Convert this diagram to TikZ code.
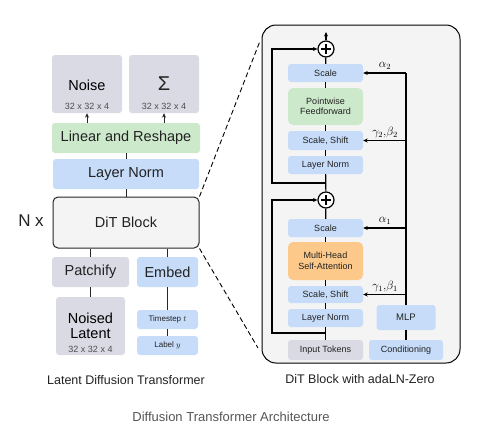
\documentclass[tikz,border=0pt]{standalone}
\usepackage{fontspec}
\setmainfont{Liberation Sans}
\usetikzlibrary{arrows.meta}
\definecolor{boxgray}{HTML}{D9DAE3}
\definecolor{boxblue}{HTML}{C6DCF8}
\definecolor{boxgreen}{HTML}{CDE9CC}
\definecolor{boxorange}{HTML}{FCC98A}
\definecolor{panelfill}{HTML}{F4F4F4}
\definecolor{txt}{HTML}{222222}
\definecolor{captgray}{HTML}{555555}
\begin{document}
\begin{tikzpicture}[x=1pt,y=-1pt,
  blk/.style={rectangle,rounded corners=3pt,inner sep=0pt,align=center,text=txt},
  gbox/.style={blk,fill=boxgray},
  bbox/.style={blk,fill=boxblue},
  grbox/.style={blk,fill=boxgreen},
  obox/.style={blk,fill=boxorange},
  big/.style={font=\fontsize{14.5}{16}\selectfont},
  small/.style={font=\fontsize{9}{10.5}\selectfont},
  tiny/.style={font=\fontsize{8}{9}\selectfont},
  captxt/.style={font=\fontsize{12.5}{14}\selectfont,text=txt},
  lline/.style={line width=1pt,draw=black!85},
  rline/.style={line width=1.2pt,draw=black},
  tip/.style={-{Stealth[length=4.5pt,width=4pt]}},
  plusnode/.style={circle,draw=black,line width=1.2pt,fill=white,minimum size=16pt,inner sep=0pt,
    path picture={\draw[line width=1.2pt] ([xshift=-5pt]path picture bounding box.center) -- ([xshift=5pt]path picture bounding box.center);
                  \draw[line width=1.2pt] ([yshift=-5pt]path picture bounding box.center) -- ([yshift=5pt]path picture bounding box.center);}},
  glabel/.style={font=\fontsize{11.5}{13}\selectfont}
]
\useasboundingbox (0,0) rectangle (486,432);

% ---------- left: latent diffusion transformer ----------
\node[gbox,minimum width=70pt,minimum height=58pt] (noise) at (87,84) {};
\node[big] (noiset) at (87,85) {Noise};
\node[small,text=txt!80] (noises) at (87,106) {32 x 32 x 4};
\node[gbox,minimum width=70pt,minimum height=58pt] (sigma) at (164,84) {};
\node[font=\fontsize{20}{22}\selectfont,text=txt] (sigmat) at (164,84) {Σ};
\node[small,text=txt!80] (sigmas) at (164,106) {32 x 32 x 4};

\node[grbox,big,minimum width=148pt,minimum height=30pt] (linear) at (126,138) {Linear and Reshape};
\node[bbox,big,minimum width=146pt,minimum height=30pt] (lnL) at (126,174) {Layer Norm};
\node[blk,big,draw=black!85,line width=1pt,fill=panelfill,rounded corners=5pt,minimum width=146pt,minimum height=51pt] (dit) at (126,222.5) {DiT Block};
\node[font=\fontsize{17}{18}\selectfont,text=txt] (nx) at (31,221) {N x};

\node[gbox,big,minimum width=77pt,minimum height=30pt] (patch) at (90.5,272) {Patchify};
\node[bbox,big,minimum width=61pt,minimum height=30pt] (embed) at (167.5,272) {Embed};
\node[gbox,minimum width=69pt,minimum height=58pt] (latent) at (90.5,326) {};
\node[big,align=center] (latentt) at (90.5,326) {Noised\\[-1pt]Latent};
\node[small,text=txt!80] (latents) at (90.5,349.5) {32 x 32 x 4};
\node[bbox,tiny,minimum width=61pt,minimum height=19pt] (tstep) at (167.5,319.5) {Timestep $t$};
\node[bbox,tiny,minimum width=61pt,minimum height=19pt] (label) at (167.5,345.5) {Label $y$};

\node[captxt] (capL) at (126,380) {Latent Diffusion Transformer};

\draw[lline,tip] (noise.south |- linear.north) -- (noise.south);
\draw[lline,tip] (sigma.south |- linear.north) -- (sigma.south);
\draw[lline] (linear) -- (lnL);
\draw[lline] (lnL) -- (dit);
\draw[lline] (patch.north) -- (patch.north |- dit.south);
\draw[lline] (embed.north) -- (embed.north |- dit.south);
\draw[lline] (patch) -- (latent);
\draw[lline] (embed) -- (tstep);
\draw[lline] (tstep) -- (label);

% ---------- right panel ----------
\node[draw=black,line width=1pt,fill=panelfill,rounded corners=14pt,minimum width=198pt,minimum height=338pt,inner sep=0pt] (panel) at (361,194) {};

\node[plusnode] (plus2) at (326,49) {};
\node[bbox,small,minimum width=75pt,minimum height=18pt] (scale2) at (325.5,73) {Scale};
\node[grbox,small,minimum width=75pt,minimum height=37pt,rounded corners=5pt] (ff) at (325.5,106.5) {Pointwise\\Feedforward};
\node[bbox,small,minimum width=75pt,minimum height=19pt] (ss2) at (325.5,140.5) {Scale, Shift};
\node[bbox,small,minimum width=75pt,minimum height=18pt] (ln2) at (325.5,165) {Layer Norm};
\node[plusnode] (plus1) at (326,200) {};
\node[bbox,small,minimum width=75pt,minimum height=18pt] (scale1) at (325.5,228) {Scale};
\node[obox,small,minimum width=75pt,minimum height=38pt,rounded corners=5pt] (mhsa) at (325.5,261) {Multi-Head\\Self-Attention};
\node[bbox,small,minimum width=75pt,minimum height=17pt] (ss1) at (325.5,294.5) {Scale, Shift};
\node[bbox,small,minimum width=75pt,minimum height=18pt] (ln1) at (325.5,318) {Layer Norm};
\node[gbox,small,minimum width=75pt,minimum height=20pt] (input) at (325.5,350) {Input Tokens};
\node[bbox,small,minimum width=74pt,minimum height=20pt] (cond) at (406,350) {Conditioning};
\node[bbox,font=\fontsize{9.5}{11}\selectfont,minimum width=59pt,minimum height=25pt] (mlp) at (406,317.5) {MLP};

\coordinate (topout) at (326,32);
\coordinate (rtop) at (406,73);
\coordinate (res1) at (326,333);
\coordinate (res2) at (326,183);
\coordinate (loopx) at (272,0);

% main stream
\draw[rline] (input) -- (ln1);
\draw[rline] (ln1) -- (ss1);
\draw[rline] (ss1) -- (mhsa);
\draw[rline] (mhsa) -- (scale1);
\draw[rline] (scale1) -- (plus1);
\draw[rline] (plus1) -- (ln2);
\draw[rline] (ln2) -- (ss2);
\draw[rline] (ss2) -- (ff);
\draw[rline] (ff) -- (scale2);
\draw[rline] (scale2) -- (plus2);
\draw[rline,tip] (plus2) -- (topout);

% residual loops
\draw[rline,tip] (res1) -- (loopx |- res1) -- (loopx |- plus1) -- (plus1.west);
\draw[rline,tip] (res2) -- (loopx |- res2) -- (loopx |- plus2) -- (plus2.west);

% conditioning
\draw[rline] (cond) -- (mlp);
\draw[rline] (mlp.north) -- (rtop);
\draw[rline,tip] (rtop) -- (scale2.east);
\draw[rline,tip] (rtop |- ss2) -- (ss2.east);
\draw[rline,tip] (rtop |- scale1) -- (scale1.east);
\draw[rline,tip] (rtop |- ss1) -- (ss1.east);

\node[glabel] (a2) at (385,66) {$\alpha_2$};
\node[glabel] (gb2) at (385,132.5) {$\gamma_2,\!\beta_2$};
\node[glabel] (a1) at (385,221) {$\alpha_1$};
\node[glabel] (gb1) at (385,286.5) {$\gamma_1,\!\beta_1$};

\node[captxt] (capR) at (360,379) {DiT Block with adaLN-Zero};

% zoom lines
\draw[line width=0.9pt,dash pattern=on 5pt off 3pt] (dit.north east) -- (260,41);
\draw[line width=0.9pt,dash pattern=on 5pt off 3pt] (dit.south east) -- (258,348);

\node[font=\fontsize{13}{15}\selectfont,text=captgray] (title) at (231,417) {Diffusion Transformer Architecture};
\end{tikzpicture}
\end{document}
